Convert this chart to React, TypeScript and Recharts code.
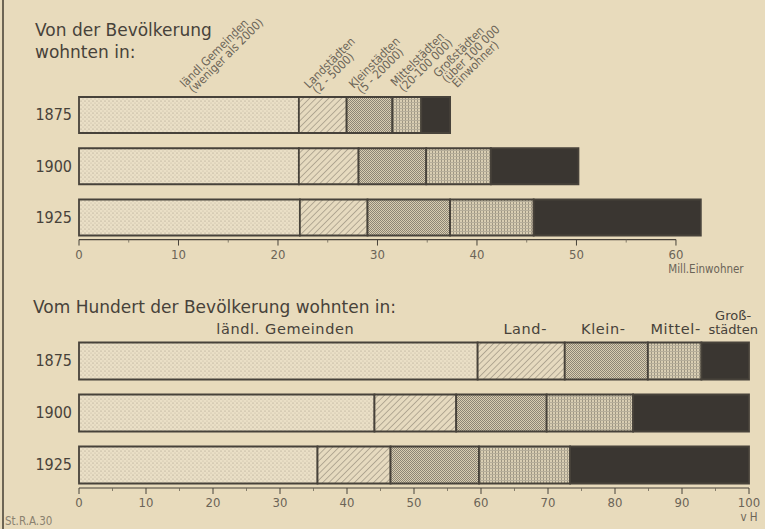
import { Bar, BarChart, LabelList, XAxis, YAxis } from "recharts";

const YEARS = ["1875", "1900", "1925"];

// Mill. Einwohner
const MILL_LAENDL = [22.1, 22.1, 22.2];
const MILL_LAND = [4.8, 6.0, 6.8];
const MILL_KLEIN = [4.6, 6.8, 8.3];
const MILL_MITTEL = [2.9, 6.5, 8.4];
const MILL_GROSS = [2.9, 8.8, 16.8];

// vom Hundert
const VH_LAENDL = [59.5, 44.1, 35.6];
const VH_LAND = [13.0, 12.2, 10.9];
const VH_KLEIN = [12.4, 13.5, 13.2];
const VH_MITTEL = [8.0, 12.9, 13.6];
const VH_GROSS = [7.1, 17.3, 26.7];

const MILL_TICKS = [0, 10, 20, 30, 40, 50, 60];
const VH_TICKS = [0, 10, 20, 30, 40, 50, 60, 70, 80, 90, 100];

const KEYS = ["laendl", "land", "klein", "mittel", "gross"];

const TOP_LABELS = [
  ["ländl.Gemeinden", "(weniger als 2000)"],
  ["Landstädten", "(2 - 5000)"],
  ["Kleinstädten", "(5 - 20000)"],
  ["Mittelstädten", "(20-100 000)"],
  ["Großstädten", "(über 100 000", "Einwohner)"],
];

const BOTTOM_LABELS = [["ländl. Gemeinden"], ["Land-"], ["Klein-"], ["Mittel-"], ["Groß-", "städten"]];

const milData = YEARS.map((year, i) => ({
  year,
  laendl: MILL_LAENDL[i],
  land: MILL_LAND[i],
  klein: MILL_KLEIN[i],
  mittel: MILL_MITTEL[i],
  gross: MILL_GROSS[i],
}));

const vhData = YEARS.map((year, i) => ({
  year,
  laendl: VH_LAENDL[i],
  land: VH_LAND[i],
  klein: VH_KLEIN[i],
  mittel: VH_MITTEL[i],
  gross: VH_GROSS[i],
}));

const BG = "#e8dbbc";
const INK = "#47423a";
const TEXT_MID = "#6b6457";
const FONT = "'DejaVu Sans Condensed', 'Liberation Sans Narrow', 'DejaVu Sans', sans-serif";
const FONT_WIDE = "'DejaVu Sans', 'Noto Sans', sans-serif";

const FILLS = ["url(#p-dots)", "url(#p-hatch)", "url(#p-check)", "url(#p-grid)", "#3a3631"];

// label placement relative to the 1875 segment (dx from start, dy above bar top)
const TOP_LABEL_POS = [
  { dx: 106, dy: 9 },
  { dx: 10, dy: 8 },
  { dx: 7, dy: 8 },
  { dx: 3, dy: 10 },
  { dx: 17, dy: 19 },
];
const BOTTOM_LABEL_DX = [7, 4, -3, 1, 8];

const LEFT = 79;
const TOP_RIGHT = 39.3;
const TOP_MAX = 65;
const BOT_RIGHT = 16;
const BOT_MAX = 100;

function Patterns() {
  return (
    <svg width={0} height={0} style={{ position: "absolute" }}>
      <defs>
        <pattern id="p-dots" width={4} height={4} patternUnits="userSpaceOnUse">
          <rect width={4} height={4} fill="#eadfc6" />
          <circle cx={1} cy={1} r={0.6} fill="#a39a86" />
          <circle cx={3} cy={3} r={0.5} fill="#b8af9a" />
        </pattern>
        <pattern id="p-hatch" width={4.5} height={4.5} patternUnits="userSpaceOnUse" patternTransform="rotate(45)">
          <rect width={4.5} height={4.5} fill="#e6dabf" />
          <line x1={0} y1={0} x2={0} y2={4.5} stroke="#8a8272" strokeWidth={1.1} />
        </pattern>
        <pattern id="p-check" width={2} height={2} patternUnits="userSpaceOnUse">
          <rect width={2} height={2} fill="#d9cdb1" />
          <rect x={0} y={0} width={1} height={1} fill="#8d8676" />
          <rect x={1} y={1} width={1} height={1} fill="#8d8676" />
        </pattern>
        <pattern id="p-grid" width={3} height={3} patternUnits="userSpaceOnUse">
          <rect width={3} height={3} fill="#d9ceb3" />
          <rect x={0} y={0} width={1} height={3} fill="#9d9582" />
          <rect x={0} y={0} width={3} height={1} fill="#b6ae9a" />
        </pattern>
      </defs>
    </svg>
  );
}

function makeTick(max: number, domainMax: number, right: number, lift: number, unit: string, unitDx: number, unitDy: number) {
  const pxPerUnit = (765 - LEFT - right) / domainMax;
  const stepPx = 10 * pxPerUnit;
  return (props: any) => {
    const { x, y, payload } = props;
    const ay = y - lift;
    return (
      <g>
        {payload.value === 0 && (
          <line x1={x} x2={x + max * pxPerUnit} y1={ay} y2={ay} stroke={INK} strokeWidth={1.2} />
        )}
        <line x1={x} x2={x} y1={ay} y2={ay + 6} stroke={INK} strokeWidth={1} />
        {payload.value < max && (
          <line x1={x + stepPx / 2} x2={x + stepPx / 2} y1={ay} y2={ay + 3} stroke={TEXT_MID} strokeWidth={0.8} />
        )}
        <text x={x} y={ay + 19} textAnchor="middle" fontSize={13} fill={TEXT_MID} fontFamily={FONT}>
          {payload.value}
        </text>
        {payload.value === max && (
          <text x={x + unitDx} y={ay + unitDy} textAnchor="middle" fontSize={11.5} fill={TEXT_MID} fontFamily={FONT}>
            {unit}
          </text>
        )}
      </g>
    );
  };
}

const topTick = makeTick(60, TOP_MAX, TOP_RIGHT, 3.2, "Mill.Einwohner", 30, 33);
const botTick = makeTick(100, BOT_MAX, BOT_RIGHT, 2.5, "v H", 0, 33);

const topLabel = (i: number) => (props: any) => {
  if (props.index !== 0) return null;
  const pos = TOP_LABEL_POS[i];
  const ax = Number(props.x) + pos.dx;
  const ay = Number(props.y) - pos.dy;
  return (
    <text transform={`translate(${ax},${ay}) rotate(-45)`} fontSize={11.8} fill={TEXT_MID} fontFamily={FONT}>
      {TOP_LABELS[i].map((line, k) => (
        <tspan key={k} x={k === 2 ? 6 : k === 1 ? 2 : 0} dy={k === 0 ? 0 : 10.2}>
          {line}
        </tspan>
      ))}
    </text>
  );
};

const bottomLabel = (i: number) => (props: any) => {
  if (props.index !== 0) return null;
  const cx = Number(props.x) + Number(props.width) / 2 + BOTTOM_LABEL_DX[i];
  const lines = BOTTOM_LABELS[i];
  const by = Number(props.y) - 9;
  const two = lines.length > 1;
  return (
    <text
      x={cx}
      y={by - (lines.length - 1) * 14}
      textAnchor="middle"
      fontSize={two ? 13 : 14.5}
      letterSpacing={two ? 0 : 0.6}
      fill={INK}
      fontFamily={FONT_WIDE}
    >
      {lines.map((line, k) => (
        <tspan key={k} x={cx} dy={k === 0 ? 0 : 14}>
          {line}
        </tspan>
      ))}
    </text>
  );
};

export default function App() {
  return (
    <div
      style={{
        position: "absolute",
        left: 0,
        top: 0,
        width: 765,
        height: 529,
        background: BG,
        overflow: "hidden",
        fontFamily: FONT,
      }}
    >
      <Patterns />
      <div style={{ position: "absolute", left: 2, top: 0, width: 2, height: 529, background: "#6d6554" }} />

      <svg width={765} height={529} style={{ position: "absolute", left: 0, top: 0 }}>
        <text x={35} y={36} fontSize={17} fill={INK} fontFamily={FONT_WIDE}>
          Von der Bevölkerung
        </text>
        <text x={35} y={58} fontSize={17} fill={INK} fontFamily={FONT_WIDE}>
          wohnten in:
        </text>
        <text x={33} y={313} fontSize={17} fill={INK} fontFamily={FONT_WIDE}>
          Vom Hundert der Bevölkerung wohnten in:
        </text>
        <text x={5} y={525} fontSize={11.5} fill="#8a816f" fontFamily={FONT}>
          St.R.A.30
        </text>
      </svg>

      <div style={{ position: "absolute", left: 0, top: 0 }}>
        <BarChart
          width={765}
          height={290}
          data={milData}
          layout="vertical"
          margin={{ top: 89, right: TOP_RIGHT, left: 0, bottom: 12.25 }}
        >
          <XAxis
            type="number"
            domain={[0, TOP_MAX]}
            ticks={MILL_TICKS}
            interval={0}
            axisLine={false}
            tickLine={false}
            tickSize={0}
            tickMargin={0}
            height={35}
            tick={topTick}
          />
          <YAxis
            type="category"
            dataKey="year"
            width={LEFT}
            axisLine={false}
            tickLine={false}
            tickSize={0}
            tickMargin={7}
            tick={{ fontSize: 16, fill: INK, fontFamily: FONT }}
          />
          {KEYS.map((k, i) => (
            <Bar
              key={k}
              dataKey={k}
              stackId="a"
              barSize={36}
              fill={FILLS[i]}
              stroke={INK}
              strokeWidth={1.8}
              isAnimationActive={false}
            >
              <LabelList dataKey={k} content={topLabel(i)} />
            </Bar>
          ))}
        </BarChart>
      </div>

      <div style={{ position: "absolute", left: 0, top: 270 }}>
        <BarChart
          width={765}
          height={259}
          data={vhData}
          layout="vertical"
          margin={{ top: 64.5, right: BOT_RIGHT, left: 0, bottom: 8.5 }}
        >
          <XAxis
            type="number"
            domain={[0, BOT_MAX]}
            ticks={VH_TICKS}
            interval={0}
            axisLine={false}
            tickLine={false}
            tickSize={0}
            tickMargin={0}
            height={30}
            tick={botTick}
          />
          <YAxis
            type="category"
            dataKey="year"
            width={LEFT}
            axisLine={false}
            tickLine={false}
            tickSize={0}
            tickMargin={7}
            tick={{ fontSize: 16, fill: INK, fontFamily: FONT }}
          />
          {KEYS.map((k, i) => (
            <Bar
              key={k}
              dataKey={k}
              stackId="a"
              barSize={37}
              fill={FILLS[i]}
              stroke={INK}
              strokeWidth={1.8}
              isAnimationActive={false}
            >
              <LabelList dataKey={k} content={bottomLabel(i)} />
            </Bar>
          ))}
        </BarChart>
      </div>
    </div>
  );
}
